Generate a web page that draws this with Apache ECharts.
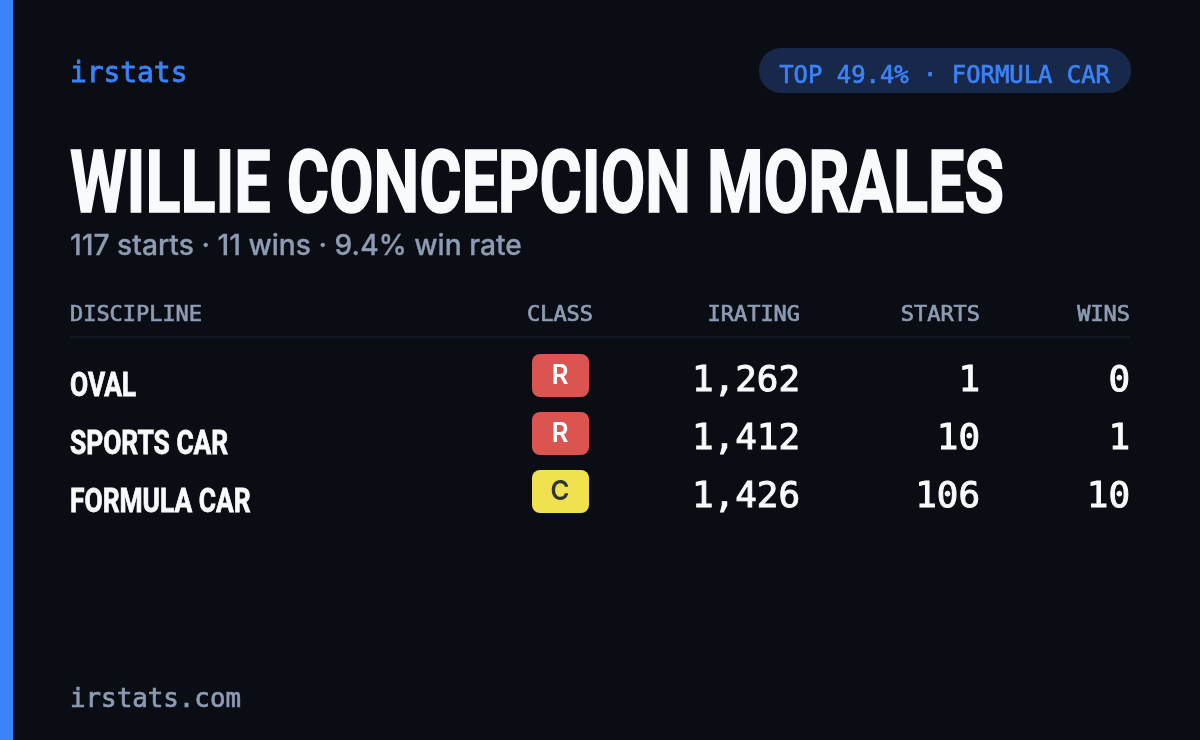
<!DOCTYPE html>
<html><head><meta charset="utf-8">
<style>html,body{margin:0;padding:0;background:#0a0d14}#c{width:1200px;height:740px}</style>
<script src="https://cdn.jsdelivr.net/npm/echarts@6/dist/echarts.min.js"></script>
</head><body><div id="c"></div>
<script>
const brand = "irstats";
const pill = "TOP 49.4% · FORMULA CAR";
const driver = "WILLIE CONCEPCION MORALES";
const summary = "117 starts · 11 wins · 9.4% win rate";
const footer = "irstats.com";
const headers = ["DISCIPLINE","CLASS","IRATING","STARTS","WINS"];
const disciplines = ["OVAL","SPORTS CAR","FORMULA CAR"];
const classes = ["R","R","C"];
const iratings = [1262,1412,1426];
const starts = [1,10,106];
const wins = [0,1,10];

const MONO = '"DejaVu Sans Mono"';
const COND = 'Roboto';
const GREY = "#8d9bb3";
const classFill = {R:"#dc5450",C:"#f0e24e"};
const classText = {R:"#ffffff",C:"#333333"};
const fmt = n => n.toLocaleString("en-US");
const els = [
  {type:"rect",shape:{x:0,y:0,width:1200,height:740},style:{fill:"#0a0d14"}},
  {type:"rect",shape:{x:0,y:0,width:13,height:740},style:{fill:"#3b82f6"}},
  {type:"rect",shape:{x:759,y:48,width:372,height:45,r:22},style:{fill:"#18284a"}},
  {type:"rect",shape:{x:70,y:336,width:1061,height:2},style:{fill:"#141824"}},
];
function t(x,y,text,font,fill,align,sx,sw){
  const style = {text,font,fill,align:align||"left",verticalAlign:"middle"};
  if (sw) { style.stroke = fill; style.lineWidth = sw; }
  els.push({type:"text",x,y,scaleX:sx||1,silent:true,style});
}
t(70,75,brand,"28px "+MONO,"#3b82f6","left",0.995,0.8);
t(1110,77,pill,"24.5px "+MONO,"#3b82f6","right",0.975,0.7);
t(70,190,driver,"700 87px "+COND,"#f8fafc","left",0.743,1.6);
t(70,247,summary,'500 28px Inter',GREY,"left",1.007,0.3);
const hx = [70,593,800,980,1130], ha=["left","right","right","right","right"];
headers.forEach((h,i)=>t(hx[i],316,h,"21px "+MONO,GREY,ha[i],1.044,0.7));
disciplines.forEach((d,i)=>{
  const y = 378+58*i;
  t(70,y+9,d,"700 34px "+COND,"#f8fafc","left",0.775,0.8);
  els.push({type:"rect",shape:{x:532,y:y-24,width:57,height:43,r:8},style:{fill:classFill[classes[i]]}});
  t(560,y-2,classes[i],"600 27px Inter",classText[classes[i]],"center",0.95);
  t(800,y+4,fmt(iratings[i]),"36px "+MONO,"#f8fafc","right",0.997,1);
  t(980,y+4,fmt(starts[i]),"36px "+MONO,"#f8fafc","right",0.997,1);
  t(1130,y+4,fmt(wins[i]),"36px "+MONO,"#f8fafc","right",0.997,1);
});
t(70,700,footer,"26px "+MONO,GREY,"left",0.993,0.7);
const chart = echarts.init(document.getElementById("c"),null,{renderer:"canvas"});
chart.setOption({backgroundColor:"#0a0d14",animation:false,graphic:{elements:els}});
</script></body></html>
